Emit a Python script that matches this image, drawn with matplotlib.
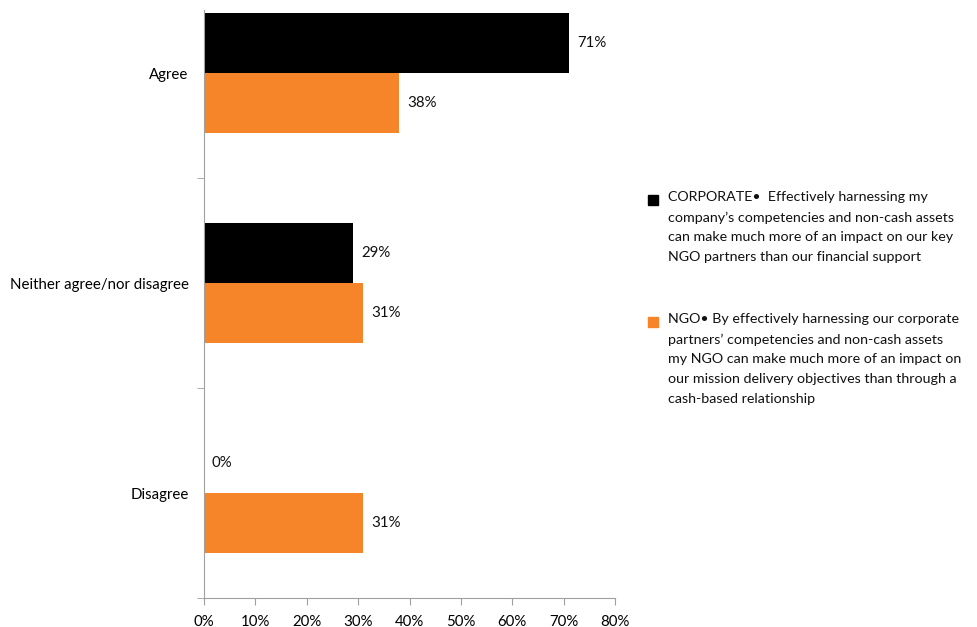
import matplotlib.pyplot as plt
from matplotlib.patches import Rectangle
import numpy as np

plt.rcParams['font.family'] = ['Lato', 'DejaVu Sans']

categories = ["Agree", "Neither agree/nor disagree", "Disagree"]
corporate = [71, 29, 0]
ngo = [38, 31, 31]
series_names = ["CORPORATE", "NGO"]
series_text = [
    "CORPORATE\u2022  Effectively harnessing my\ncompany\u2019s competencies and non-cash assets\ncan make much more of an impact on our key\nNGO partners than our financial support",
    "NGO\u2022 By effectively harnessing our corporate\npartners\u2019 competencies and non-cash assets\nmy NGO can make much more of an impact on\nour mission delivery objectives than through a\ncash-based relationship",
]
colors = ["#000000", "#F68428"]
xticks = [0, 10, 20, 30, 40, 50, 60, 70, 80]

fig = plt.figure(figsize=(9.78, 6.27), dpi=100)
ax = fig.add_axes([204 / 978, 1 - 598 / 627, (615 - 204) / 978, 588 / 627])

y = np.arange(len(categories))
h = 0.286
for vals, off, col in [(corporate, -h / 2, colors[0]), (ngo, h / 2, colors[1])]:
    bars = ax.barh(y + off, vals, height=h, color=col)
    for b, v in zip(bars, vals):
        ax.annotate(f"{v}%", (b.get_width(), b.get_y() + b.get_height() / 2),
                    xytext=(8, 0), textcoords="offset pixels",
                    va="center", ha="left", fontsize=10.8, color="#111111")

ax.set_xlim(0, 80)
ax.set_ylim(2.5, -0.3)
ax.set_xticks(xticks)
ax.set_xticklabels([f"{t}%" for t in xticks], fontsize=10.8)
ax.set_yticks(y)
ax.set_yticklabels(categories, fontsize=10.8)
ax.set_yticks([0.5, 1.5, 2.5], minor=True)
ax.tick_params(axis="y", which="major", length=0, pad=11)
ax.tick_params(axis="y", which="minor", length=5, color="#a0a0a0", direction="out")
ax.tick_params(axis="x", length=5, color="#a0a0a0", pad=7)
for s in ["top", "right"]:
    ax.spines[s].set_visible(False)
for s in ["left", "bottom"]:
    ax.spines[s].set_color("#a0a0a0")

# legend drawn by hand so the swatch sits on the first line
ly = [1 - 200 / 627, 1 - 322 / 627]
for col, txt, yy in zip(colors, series_text, ly):
    fig.patches.append(Rectangle((648 / 978, yy - 5 / 627), 10 / 978, 10 / 627,
                                 transform=fig.transFigure, color=col))
    fig.text(668 / 978, yy + 9 / 627, txt, fontsize=10.3, va="top", ha="left",
             linespacing=1.78, color="#111111")

fig.savefig("out.png", dpi=100)
